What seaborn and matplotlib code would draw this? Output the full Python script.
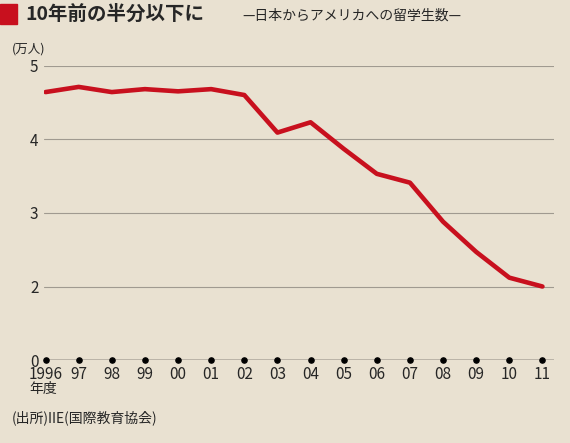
import matplotlib
matplotlib.use("Agg")
import matplotlib.pyplot as plt
import seaborn as sns
import pandas as pd

years = ["1996","97","98","99","00","01","02","03","04","05","06","07","08","09","10","11"]
values = [4.64,4.71,4.64,4.68,4.65,4.68,4.60,4.09,4.23,3.87,3.53,3.41,2.88,2.47,2.12,2.00]
ytick_vals = [1,2,3,4,5]
ytick_labels = ["0","2","3","4","5"]

sns.set_theme(style="white")
plt.rcParams['font.family'] = ['Noto Sans CJK JP', 'DejaVu Sans']
bg = "#e9e1d1"
fig = plt.figure(figsize=(5.70,4.43), dpi=100, facecolor=bg)
ax = fig.add_axes([0.077, 0.187, 0.895, 0.665])
ax.set_facecolor(bg)
df = pd.DataFrame({"x": range(len(years)), "v": values})
sns.lineplot(data=df, x="x", y="v", ax=ax, color="#c8101e", lw=3.3)
ax.scatter(range(len(years)), [1]*len(years), color="black", s=14, zorder=5, clip_on=False)
ax.set_xlim(-0.05, 15.35)
ax.set_ylim(1, 5)
ax.set_yticks(ytick_vals)
ax.set_yticklabels(ytick_labels, fontsize=11)
for y in ytick_vals[1:]:
    ax.axhline(y, color="#a09a90", lw=0.8, zorder=0)
ax.axhline(1, color="black", lw=1, zorder=1)
for s in ax.spines.values():
    s.set_visible(False)
ax.set_xticks(range(len(years)))
ax.set_xticklabels(years, fontsize=11)
ax.tick_params(axis='both', length=0, pad=4)
ax.set_xlabel(""); ax.set_ylabel("")
fig.text(0.052, 0.137, "年度", fontsize=10, ha="left", va="top")
fig.text(0.02, 0.875, "(万人)", fontsize=9, ha="left", va="bottom")
fig.text(0.02, 0.04, "(出所)IIE(国際教育協会)", fontsize=10, ha="left", va="bottom")
fig.patches.append(plt.Rectangle((0.0, 0.945), 0.03, 0.045, transform=fig.transFigure, color="#c8101e"))
fig.text(0.045, 0.967, "10年前の半分以下に", fontsize=14, fontweight="bold", ha="left", va="center")
fig.text(0.425, 0.965, "—日本からアメリカへの留学生数—", fontsize=10, ha="left", va="center")
fig.savefig("out.png", dpi=100, facecolor=bg)
